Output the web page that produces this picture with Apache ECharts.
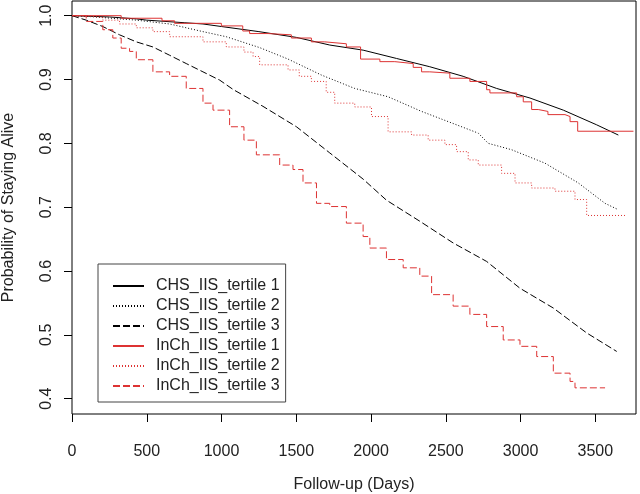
<!DOCTYPE html>
<html>
<head>
<meta charset="utf-8">
<script src="https://cdn.jsdelivr.net/npm/echarts@6/dist/echarts.min.js"></script>
<style>
  html, body { margin: 0; padding: 0; background: #fff; }
  #chart { width: 640px; height: 494px; }
</style>
</head>
<body>
<div id="chart"></div>
<script>
var seriesNames = ['CHS_IIS_tertile 1', 'CHS_IIS_tertile 2', 'CHS_IIS_tertile 3',
  'InCh_IIS_tertile 1', 'InCh_IIS_tertile 2', 'InCh_IIS_tertile 3'];
var xTicks = [0, 500, 1000, 1500, 2000, 2500, 3000, 3500];
var yTicks = [0.4, 0.5, 0.6, 0.7, 0.8, 0.9, 1.0];

// CHS curves (many small steps, read as a polyline)
var chs1Days = [0, 250, 430, 500, 750, 876, 1000, 1250, 1500, 1724, 1947, 2170, 2393, 2616, 2840, 3063, 3286, 3509, 3654];
var chs1Surv = [1.0, 0.998, 0.995, 0.993, 0.989, 0.987, 0.983, 0.975, 0.966, 0.954, 0.946, 0.933, 0.920, 0.905, 0.886, 0.871, 0.852, 0.829, 0.813];

var chs2Days = [0, 100, 206, 430, 653, 876, 1032, 1255, 1445, 1668, 1891, 2114, 2338, 2494, 2717, 2784, 2940, 3163, 3386, 3565, 3654];
var chs2Surv = [1.0, 0.999, 0.997, 0.993, 0.987, 0.975, 0.967, 0.950, 0.932, 0.907, 0.886, 0.873, 0.850, 0.836, 0.816, 0.800, 0.790, 0.769, 0.738, 0.706, 0.696];

var chs3Days = [0, 95, 206, 318, 430, 541, 653, 764, 876, 988, 1080, 1277, 1501, 1724, 1947, 2103, 2326, 2549, 2773, 2996, 3219, 3442, 3643];
var chs3Surv = [1.0, 0.993, 0.983, 0.970, 0.959, 0.951, 0.938, 0.925, 0.912, 0.899, 0.884, 0.858, 0.826, 0.785, 0.744, 0.711, 0.678, 0.644, 0.615, 0.573, 0.542, 0.503, 0.474];

// InCh curves (visible steps)
var inch1Days = [0, 329, 602, 686, 999, 1142, 1188, 1311, 1467, 1601, 1690, 1835, 1930, 2059, 2159, 2282, 2338, 2393, 2527, 2661, 2773, 2795, 2974, 3018, 3074, 3118, 3183, 3297, 3331, 3382, 3755];
var inch1Surv = [1.0, 0.996, 0.992, 0.988, 0.984, 0.976, 0.972, 0.970, 0.965, 0.959, 0.956, 0.951, 0.932, 0.928, 0.925, 0.919, 0.912, 0.910, 0.902, 0.897, 0.884, 0.879, 0.873, 0.865, 0.853, 0.850, 0.845, 0.842, 0.834, 0.819, 0.819];

var inch2Days = [0, 100, 206, 318, 430, 541, 653, 876, 1032, 1150, 1211, 1255, 1445, 1520, 1601, 1700, 1757, 1891, 2003, 2114, 2271, 2382, 2494, 2572, 2650, 2717, 2873, 2963, 3074, 3230, 3364, 3442, 3699];
var inch2Surv = [1.0, 0.997, 0.993, 0.987, 0.981, 0.975, 0.967, 0.959, 0.951, 0.943, 0.936, 0.923, 0.915, 0.905, 0.897, 0.880, 0.863, 0.857, 0.842, 0.818, 0.813, 0.805, 0.798, 0.787, 0.774, 0.766, 0.753, 0.738, 0.730, 0.725, 0.712, 0.687, 0.687];

var inch3Days = [0, 95, 206, 273, 329, 385, 430, 541, 653, 764, 876, 943, 1054, 1150, 1233, 1389, 1478, 1545, 1635, 1724, 1835, 1947, 1992, 2103, 2215, 2326, 2405, 2549, 2661, 2773, 2884, 2996, 3108, 3219, 3331, 3364, 3565];
var inch3Surv = [1.0, 0.991, 0.978, 0.965, 0.949, 0.944, 0.931, 0.912, 0.905, 0.886, 0.863, 0.852, 0.826, 0.805, 0.782, 0.766, 0.759, 0.738, 0.706, 0.701, 0.675, 0.654, 0.636, 0.618, 0.605, 0.592, 0.563, 0.545, 0.532, 0.513, 0.492, 0.482, 0.466, 0.440, 0.427, 0.417, 0.417];

var black = '#000000';
var red = '#dd3333';
var fontName = 'Liberation Sans, Arial, sans-serif';

function curve(name, days, surv, color, dash, step) {
  return {
    name: name,
    type: 'line',
    data: days.map(function (d, i) { return [d, surv[i]]; }),
    step: step ? 'end' : false,
    symbol: 'none',
    showSymbol: false,
    lineStyle: { color: color, width: 1, type: dash },
    itemStyle: { color: color },
    emphasis: { disabled: true },
    animation: false
  };
}

var chartDom = document.getElementById('chart');
var myChart = echarts.init(chartDom);
var option;

option = {
  animation: false,
  textStyle: { fontFamily: fontName },
  grid: {
    left: 72,
    right: 4,
    top: 1,
    bottom: 80,
    containLabel: false,
    outerBoundsMode: 'none',
    show: true,
    borderColor: '#000',
    borderWidth: 1,
    backgroundColor: '#fff'
  },
  legend: {
    orient: 'vertical',
    left: 98,
    top: 264,
    padding: [12, 6, 6, 14],
    itemWidth: 31,
    itemHeight: 14,
    itemGap: 0,
    borderColor: '#444',
    borderWidth: 1,
    backgroundColor: '#fff',
    data: seriesNames,
    itemStyle: { opacity: 0, borderWidth: 0 },
    textStyle: {
      fontSize: 16,
      color: '#222',
      fontFamily: fontName,
      lineHeight: 20,
      padding: [0, 0, 0, 7]
    }
  },
  xAxis: {
    type: 'value',
    min: 0,
    max: 3772,
    name: 'Follow-up (Days)',
    nameLocation: 'middle',
    nameGap: 63,
    nameTextStyle: { fontSize: 16, color: '#222', fontFamily: fontName },
    axisLine: { show: false },
    axisTick: { show: true, inside: false, length: 8, customValues: xTicks, lineStyle: { color: '#000' } },
    axisLabel: {
      show: true,
      customValues: xTicks,
      fontSize: 16,
      color: '#222',
      margin: 30,
      fontFamily: fontName,
      formatter: function (v) { return String(v); }
    },
    splitLine: { show: false }
  },
  yAxis: {
    type: 'value',
    min: 0.376,
    max: 1.023,
    name: 'Probability of Staying Alive',
    nameLocation: 'middle',
    nameRotate: 90,
    nameGap: 55,
    nameTextStyle: { fontSize: 16, color: '#222', fontFamily: fontName },
    axisLine: { show: false },
    axisTick: { show: true, inside: false, length: 8, customValues: yTicks, lineStyle: { color: '#000' } },
    axisLabel: {
      show: true,
      customValues: yTicks,
      rotate: 90,
      fontSize: 16,
      color: '#222',
      margin: 17,
      fontFamily: fontName,
      formatter: function (v) { return v.toFixed(1); }
    },
    splitLine: { show: false }
  },
  series: [
    curve(seriesNames[0], chs1Days, chs1Surv, black, 'solid', false),
    curve(seriesNames[1], chs2Days, chs2Surv, black, [1, 2], false),
    curve(seriesNames[2], chs3Days, chs3Surv, black, [7, 3], false),
    curve(seriesNames[3], inch1Days, inch1Surv, red, 'solid', true),
    curve(seriesNames[4], inch2Days, inch2Surv, red, [1, 2], true),
    curve(seriesNames[5], inch3Days, inch3Surv, red, [7, 3], true)
  ]
};

option && myChart.setOption(option);
</script>
</body>
</html>
